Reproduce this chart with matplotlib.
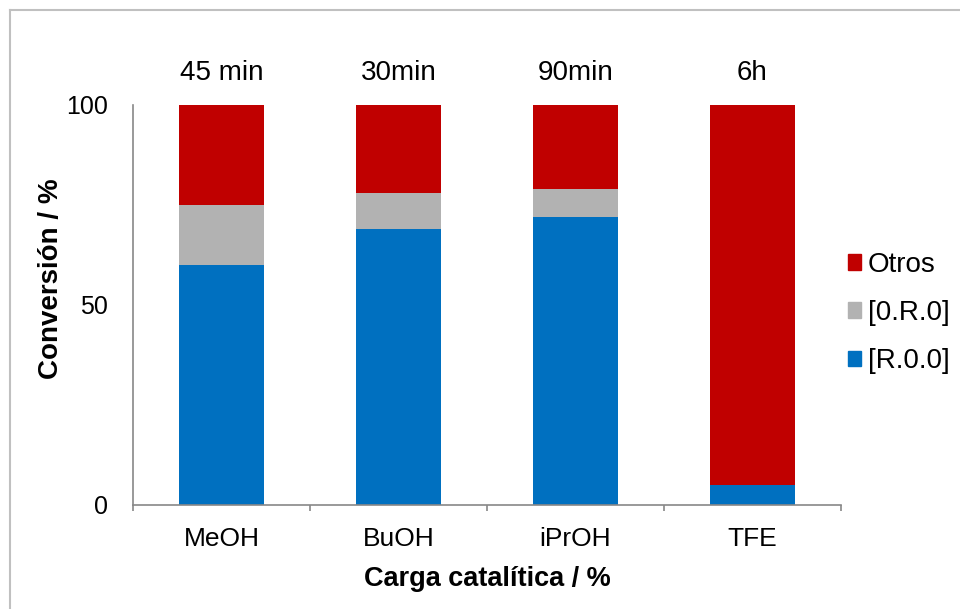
import numpy as np
import matplotlib.pyplot as plt
from matplotlib.lines import Line2D
from matplotlib.patches import Patch

plt.rcParams['font.family'] = ['Liberation Sans', 'DejaVu Sans']

# disolventes y tiempos de reacción
solventes = ["MeOH", "BuOH", "iPrOH", "TFE"]
tiempos = ["45 min", "30min", "90min", "6h"]

# conversión (%) por producto
r00 = np.array([60, 69, 72, 5])
o_r0 = np.array([15, 9, 7, 0])
otros = np.array([25, 22, 21, 95])

c_azul = "#0070C0"
c_gris = "#B2B2B2"
c_rojo = "#C00000"

W, H = 960, 609
fig = plt.figure(figsize=(W / 100, H / 100), dpi=100)
ax = fig.add_axes([133/W, 1 - 505/H, 708/W, 400/H])

x = np.arange(len(solventes))
w = 0.475
ax.bar(x, r00, w, color=c_azul, label="[R.0.0]")
ax.bar(x, o_r0, w, bottom=r00, color=c_gris, label="[0.R.0]")
ax.bar(x, otros, w, bottom=r00 + o_r0, color=c_rojo, label="Otros")

ax.set_xlim(-0.5, len(solventes) - 0.5)
ax.set_ylim(0, 100)
ax.set_yticks([0, 50, 100])
ax.set_xticks(x)
ax.set_xticklabels(solventes)
ax.set_xticks(np.arange(len(solventes) + 1) - 0.5, minor=True)
ax.tick_params(axis='y', length=0, pad=18, labelsize=18)
ax.tick_params(axis='x', which='major', length=0, pad=16, labelsize=19)
ax.tick_params(axis='x', which='minor', length=4, color='#888888', width=1.2)

for s in ["top", "right"]:
    ax.spines[s].set_visible(False)
for s in ["left", "bottom"]:
    ax.spines[s].set_color('#888888')
    ax.spines[s].set_linewidth(1.2)

# tiempo de reacción encima de cada barra
for xi, t in zip(x, tiempos):
    ax.text(xi, 108, t, ha='center', va='center', fontsize=20, clip_on=False)

fig.text(487/W, 1 - 579/H, "Carga catalítica / %", ha='center', va='center',
         fontsize=19.5, fontweight='bold')
fig.text(51/W, 1 - 279/H, "Conversión / %", ha='center', va='center',
         rotation=90, fontsize=20, fontweight='bold')

handles = [Patch(color=c_rojo), Patch(color=c_gris), Patch(color=c_azul)]
fig.legend(handles, ["Otros", "[0.R.0]", "[R.0.0]"],
           loc='center left', bbox_to_anchor=(848/W, 1 - 313/H),
           frameon=False, fontsize=20, handlelength=0.47, handleheight=0.47,
           handletextpad=0.25, labelspacing=0.8, borderpad=0, borderaxespad=0)

# marco del gráfico
fig.add_artist(Line2D([10/W, 10/W], [0, 1 - 10/H], color='#C0C0C0', lw=1.5))
fig.add_artist(Line2D([10/W, 1], [1 - 10/H, 1 - 10/H], color='#C0C0C0', lw=1.5))

fig.savefig("out.png", dpi=100, facecolor='white')
